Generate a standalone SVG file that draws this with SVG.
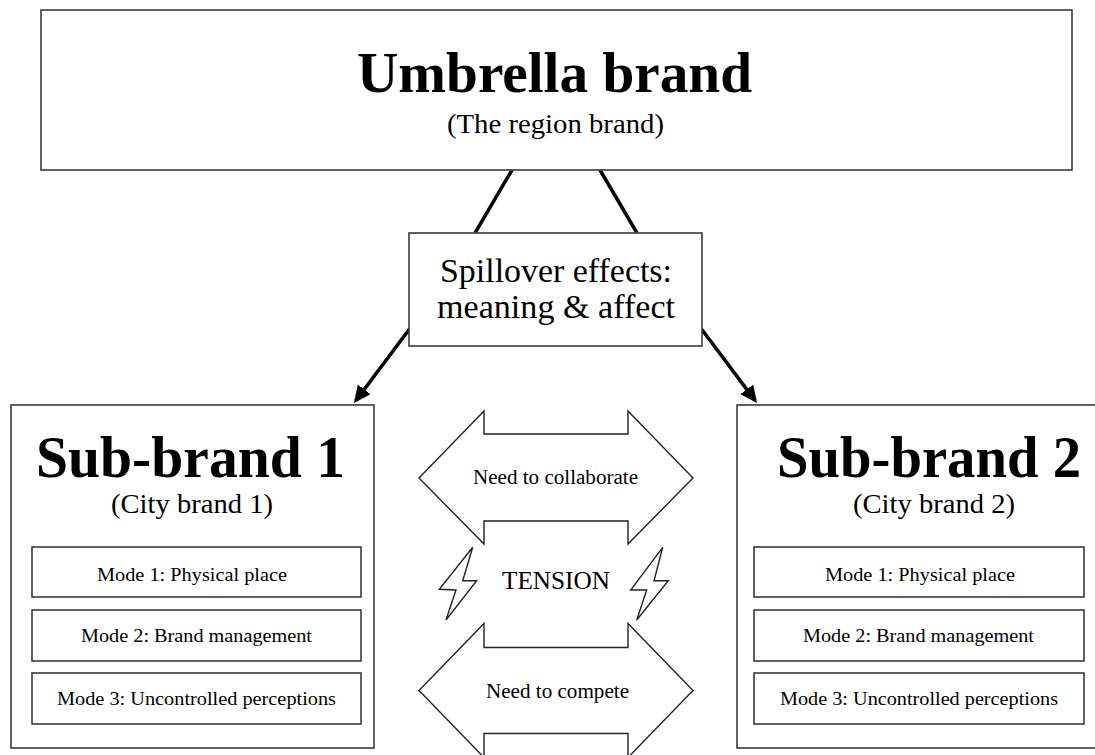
<svg xmlns="http://www.w3.org/2000/svg" width="1095" height="755" viewBox="0 0 1095 755">
<style>
.box{fill:#fff;stroke:#3a3a3a;stroke-width:1.6}
.t{font-family:"Liberation Serif","Times New Roman",serif;fill:#000;text-anchor:middle}
.b{font-weight:bold}
.conn{stroke:#000;stroke-width:3.5;fill:none}
.shape{fill:#fff;stroke:#222;stroke-width:1.4;stroke-linejoin:miter}
</style>
<defs>
<marker id="ah" markerUnits="userSpaceOnUse" markerWidth="20" markerHeight="18" refX="14" refY="8" orient="auto">
<path d="M0,0 L17,8 L0,16 Z" fill="#000"/>
</marker>
</defs>
<rect width="1095" height="755" fill="#fff"/>

<g id="connectors">
<line class="conn" x1="512" y1="170" x2="475" y2="233"/>
<line class="conn" x1="600" y1="170" x2="637" y2="233"/>
<line class="conn" x1="409.5" y1="329" x2="355.8" y2="400.6" marker-end="url(#ah)"/>
<line class="conn" x1="701.5" y1="329" x2="755.2" y2="400.6" marker-end="url(#ah)"/>
</g>

<g id="umbrella">
<rect class="box" x="41" y="10" width="1031" height="160"/>
<text class="t b" x="554.5" y="92" font-size="58" textLength="395" lengthAdjust="spacingAndGlyphs">Umbrella brand</text>
<text class="t" x="555.5" y="133" font-size="28" textLength="217" lengthAdjust="spacingAndGlyphs">(The region brand)</text>
</g>

<g id="spillover">
<rect class="box" x="409" y="233" width="293" height="113"/>
<text class="t" x="556" y="282" font-size="34" textLength="232" lengthAdjust="spacingAndGlyphs">Spillover effects:</text>
<text class="t" x="556" y="318" font-size="34" textLength="238" lengthAdjust="spacingAndGlyphs">meaning &amp; affect</text>
</g>

<g id="subbrand1">
<rect class="box" x="11" y="405" width="363" height="343"/>
<text class="t b" x="190.5" y="477" font-size="60" textLength="309" lengthAdjust="spacingAndGlyphs">Sub-brand 1</text>
<text class="t" x="192" y="513" font-size="27" textLength="162" lengthAdjust="spacingAndGlyphs">(City brand 1)</text>
<g id="sb1-mode1">
<rect class="box" x="32" y="547" width="329" height="50"/>
<text class="t" x="192" y="581" font-size="19.5" textLength="190" lengthAdjust="spacingAndGlyphs">Mode 1: Physical place</text>
</g>
<g id="sb1-mode2">
<rect class="box" x="32" y="610" width="329" height="51"/>
<text class="t" x="196.5" y="642" font-size="19.5" textLength="231" lengthAdjust="spacingAndGlyphs">Mode 2: Brand management</text>
</g>
<g id="sb1-mode3">
<rect class="box" x="32" y="673" width="329" height="51"/>
<text class="t" x="196.5" y="705" font-size="19.5" textLength="279" lengthAdjust="spacingAndGlyphs">Mode 3: Uncontrolled perceptions</text>
</g>
</g>

<g id="subbrand2">
<rect class="box" x="737" y="405" width="365" height="343"/>
<text class="t b" x="929" y="477" font-size="60" textLength="304" lengthAdjust="spacingAndGlyphs">Sub-brand 2</text>
<text class="t" x="934" y="513" font-size="27" textLength="162" lengthAdjust="spacingAndGlyphs">(City brand 2)</text>
<g id="sb2-mode1">
<rect class="box" x="754" y="547" width="330" height="50"/>
<text class="t" x="920" y="581" font-size="19.5" textLength="190" lengthAdjust="spacingAndGlyphs">Mode 1: Physical place</text>
</g>
<g id="sb2-mode2">
<rect class="box" x="754" y="610" width="330" height="51"/>
<text class="t" x="918.5" y="642" font-size="19.5" textLength="231" lengthAdjust="spacingAndGlyphs">Mode 2: Brand management</text>
</g>
<g id="sb2-mode3">
<rect class="box" x="754" y="673" width="330" height="51"/>
<text class="t" x="919" y="705" font-size="19.5" textLength="278" lengthAdjust="spacingAndGlyphs">Mode 3: Uncontrolled perceptions</text>
</g>
</g>

<g id="collaborate">
<polygon class="shape" points="419,478 484,411 484,434 628,434 628,411 693,478 628,544 628,521 484,521 484,544"/>
<text class="t" x="555.5" y="484" font-size="20.5" textLength="165" lengthAdjust="spacingAndGlyphs">Need to collaborate</text>
</g>

<g id="tension">
<polygon class="shape" points="472.7,547.3 439.3,589.3 456,590 446,620 476.7,580.7 462.7,580.7"/>
<polygon class="shape" points="662.7,547.3 630.7,590 646.7,590 636.7,620 668.3,580.7 654,580.7"/>
<text class="t" x="556" y="589" font-size="25" textLength="108" lengthAdjust="spacingAndGlyphs">TENSION</text>
</g>

<g id="compete">
<polygon class="shape" points="419,690.5 484,623.5 484,647.5 628,647.5 628,623.5 693,690.5 628,757.5 628,733.5 484,733.5 484,757.5"/>
<text class="t" x="557.5" y="698" font-size="20.5" textLength="143" lengthAdjust="spacingAndGlyphs">Need to compete</text>
</g>
</svg>
